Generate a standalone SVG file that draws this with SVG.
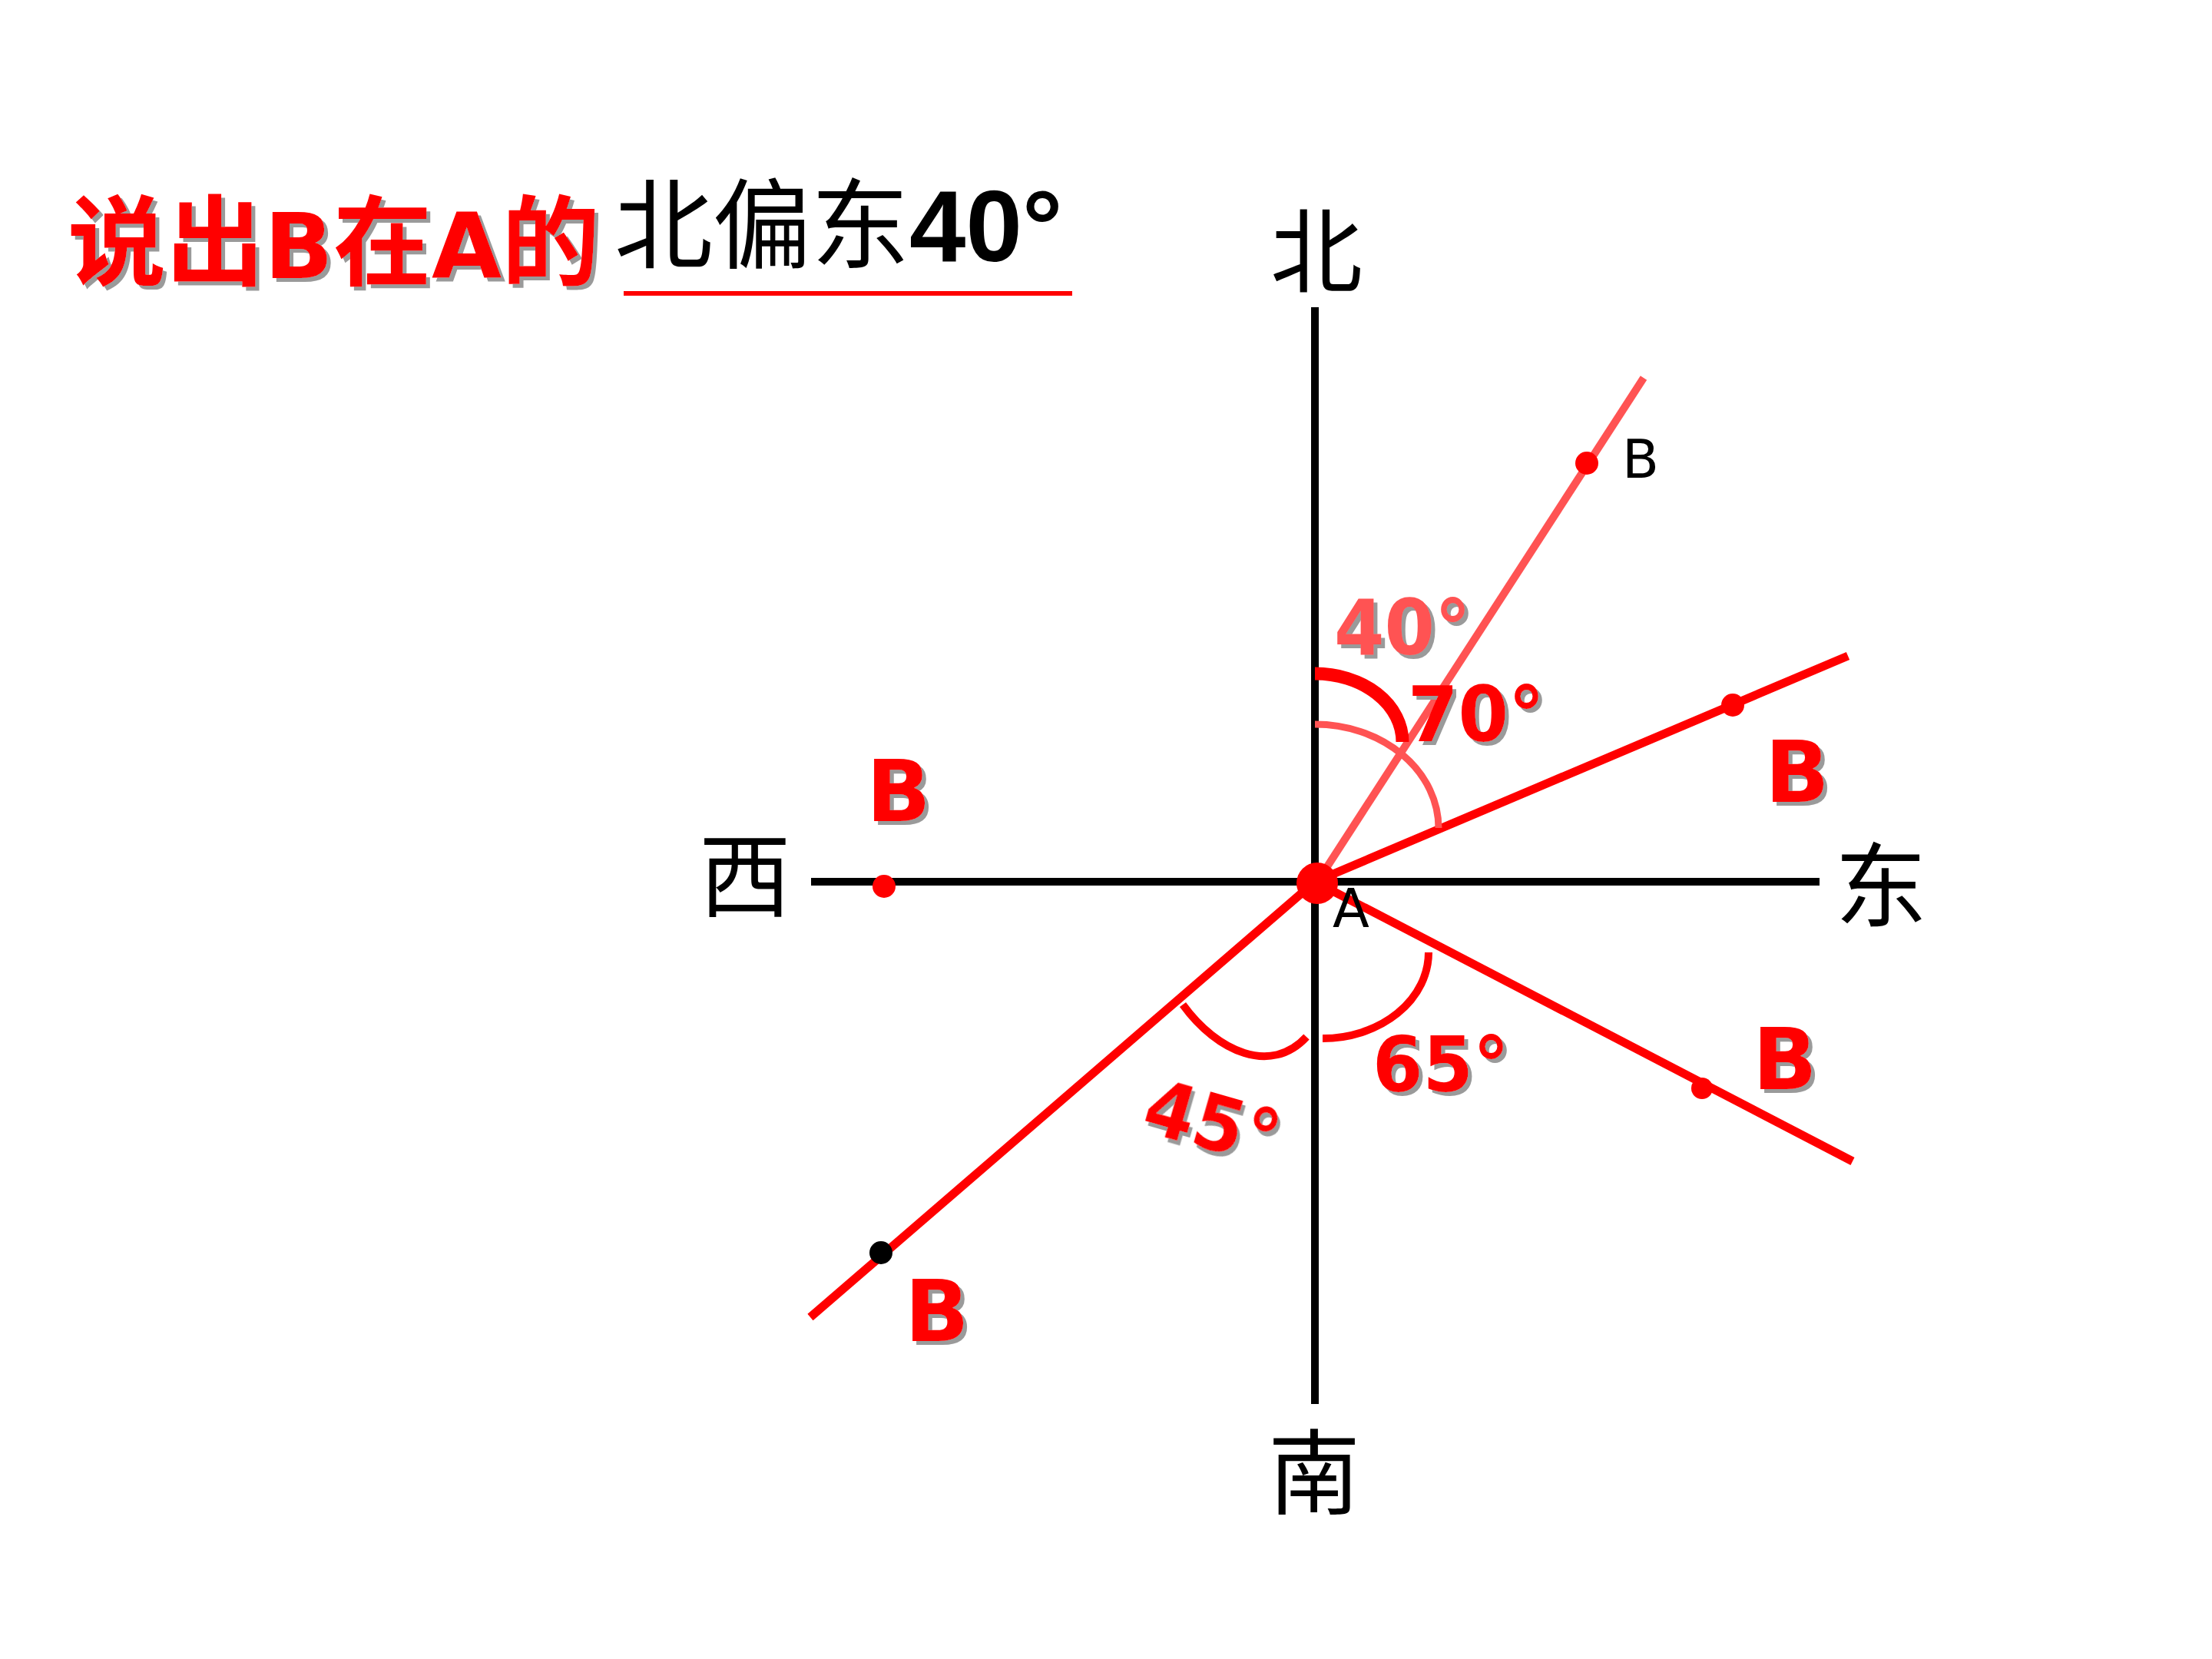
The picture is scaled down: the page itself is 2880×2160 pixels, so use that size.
<svg xmlns="http://www.w3.org/2000/svg" width="2880" height="2160" viewBox="0 0 2880 2160">
<defs>
<filter id="sh" x="-20%" y="-20%" width="150%" height="150%">
<feDropShadow dx="5" dy="5" stdDeviation="0.5" flood-color="#9a9a9a" flood-opacity="1"/>
</filter>
</defs>
<style>
.axis{stroke:#000;stroke-width:10;fill:none}
.ray{stroke:#ff0000;stroke-width:11;fill:none}
.ray-l{stroke:#ff5353;stroke-width:10;fill:none}
.arc{stroke:#ff0000;stroke-width:10;fill:none}
.arc-thick{stroke:#ff0000;stroke-width:17;fill:none}
.arc-l{stroke:#ff5353;stroke-width:9;fill:none}
.cjk{font-family:"Noto Sans CJK SC",sans-serif;fill:#000;font-size:120px;text-anchor:middle}
.deg{font-family:"DejaVu Sans",sans-serif;font-weight:bold;font-size:100px;fill:#ff0000;filter:url(#sh)}
.bl{font-family:"DejaVu Sans",sans-serif;font-weight:bold;font-size:110px;fill:#ff0000;filter:url(#sh)}
.sm{font-family:"DejaVu Sans",sans-serif;font-size:70px;fill:#000}
</style>
<rect width="2880" height="2160" fill="#fff"/>

<g id="title">
<text x="88" y="362" fill="#ff0000" filter="url(#sh)" font-weight="bold"><tspan font-family="'Noto Sans CJK SC',sans-serif" font-size="128">说出</tspan><tspan font-family="'DejaVu Sans',sans-serif" font-size="118">B</tspan><tspan font-family="'Noto Sans CJK SC',sans-serif" font-size="128">在</tspan><tspan font-family="'DejaVu Sans',sans-serif" font-size="118">A</tspan><tspan font-family="'Noto Sans CJK SC',sans-serif" font-size="128">的</tspan></text>
<text x="800" y="340" fill="#000"><tspan font-family="'Noto Sans CJK SC',sans-serif" font-size="128">北偏东</tspan><tspan font-family="'Liberation Sans',sans-serif" font-weight="bold" font-size="132">40°</tspan></text>
<line x1="812" y1="382" x2="1396" y2="382" stroke="#ff0000" stroke-width="6"/>
</g>

<g id="connectors">
<line class="axis" x1="1712" y1="400" x2="1712" y2="1828"/>
<line class="axis" x1="1056" y1="1148" x2="2369" y2="1148"/>
<line class="ray-l" x1="1714" y1="1150" x2="2140" y2="492"/>
<line class="ray" x1="1712" y1="1148" x2="2406" y2="854"/>
<line class="ray" x1="1712" y1="1148" x2="2412" y2="1512"/>
<line class="ray" x1="1712" y1="1148" x2="1055" y2="1715"/>
</g>

<g id="arcs">
<path class="arc-thick" d="M1712,877 A114,89 0 0 1 1826,966"/>
<path class="arc-l" d="M1712,943 A161,135 0 0 1 1873,1078"/>
<path class="arc" d="M1860,1240 A138,112 0 0 1 1722,1352"/>
<path class="arc" d="M1540,1308 C1585,1370 1655,1400 1701,1350"/>
</g>

<g id="directions">
<text class="cjk" x="1714" y="372">北</text>
<text class="cjk" x="970" y="1185">西</text>
<text class="cjk" x="2449" y="1198">东</text>
<text class="cjk" x="1711" y="1962">南</text>
</g>

<g id="point-A">
<circle cx="1715" cy="1150" r="27" fill="#ff0000"/>
<text class="sm" x="1735" y="1207">A</text>
</g>

<g id="point-B-40">
<circle cx="2066" cy="603" r="15" fill="#ff0000"/>
<text class="sm" x="2112" y="622">B</text>
</g>

<g id="point-B-70">
<circle cx="2256" cy="918" r="15" fill="#ff0000"/>
<text class="bl" x="2298" y="1044">B</text>
</g>

<g id="point-B-west">
<circle cx="1151" cy="1154" r="15" fill="#ff0000"/>
<text class="bl" x="1128" y="1069">B</text>
</g>

<g id="point-B-65">
<circle cx="2216" cy="1417" r="14" fill="#ff0000"/>
<text class="bl" x="2282" y="1418" font-size="100">B</text>
</g>

<g id="point-B-45">
<circle cx="1147" cy="1631" r="15" fill="#000"/>
<text class="bl" x="1178" y="1746">B</text>
</g>

<g id="angle-labels">
<text class="deg" x="1737" y="852" style="fill:#ff5353" textLength="178" lengthAdjust="spacingAndGlyphs">40°</text>
<text class="deg" x="1833" y="965" textLength="178" lengthAdjust="spacingAndGlyphs">70°</text>
<text class="deg" x="1787" y="1421" textLength="178" lengthAdjust="spacingAndGlyphs">65°</text>
<text class="deg" x="1490" y="1496" transform="rotate(16 1577 1460)" textLength="178" lengthAdjust="spacingAndGlyphs">45°</text>
</g>
</svg>
